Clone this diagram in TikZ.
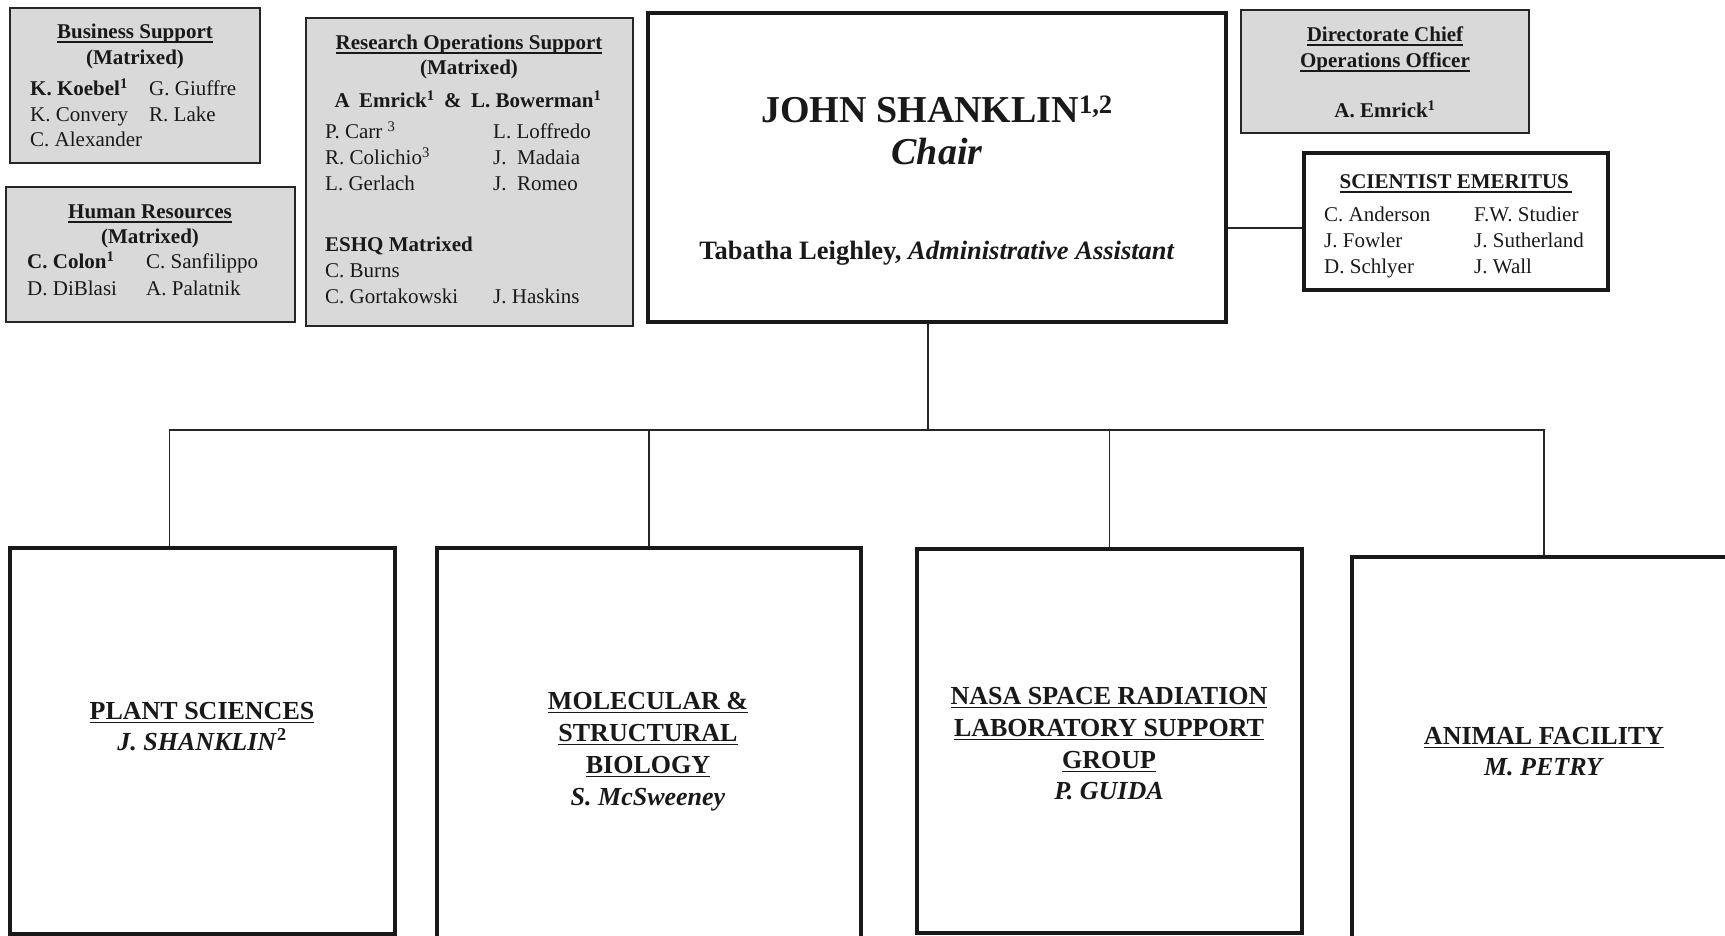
\documentclass[tikz,border=0pt]{standalone}
\usepackage{fontspec}
\setmainfont{Liberation Serif}
\newcommand{\undl}[1]{\setbox0\hbox{#1}\rlap{\rule[-3.8pt]{\wd0}{1.3pt}}\box0}

\begin{document}
\begin{tikzpicture}[x=1pt,y=-1pt,
	greybox/.style={draw=black!85, line width=1.7pt, fill=black!15, inner sep=0pt},
	mainbox/.style={draw=black!90, line width=3.2pt, fill=white, inner sep=0pt},
	link/.style={draw=black!85, line width=1.5pt},
	lbl/.style={inner sep=0pt, text=black!90, font=\fontsize{21}{25}\selectfont},
	lblb/.style={inner sep=0pt, text=black!90, font=\fontsize{21}{25}\selectfont\bfseries},
	unit/.style={inner sep=0pt, text=black!90, anchor=base, font=\fontsize{26}{31}\selectfont\bfseries}]

	\useasboundingbox (0,0) rectangle (1725,936);
	\fill[white] (0,0) rectangle (1725,936);

	% connectors
	\coordinate (hub) at (928,430);
	\coordinate (busL) at (169.5,430);
	\coordinate (busR) at (1544,430);
	\coordinate (elink) at (0,228);

	% boxes
	\draw (135,85.5) node[greybox, minimum width=250pt, minimum height=155pt] (biz) {};
	\draw (150.5,254.5) node[greybox, minimum width=289pt, minimum height=135pt] (hr) {};
	\draw (469.5,172) node[greybox, minimum width=327pt, minimum height=308pt] (rops) {};
	\draw (937,167.5) node[mainbox, minimum width=578pt, minimum height=309pt] (chair) {};
	\draw (1385,71.5) node[greybox, minimum width=288pt, minimum height=123pt] (coo) {};
	\draw (1456,221.5) node[mainbox, minimum width=304pt, minimum height=137pt] (emer) {};

	\draw (202.5,741) node[mainbox, minimum width=385pt, minimum height=386pt] (plant) {};
	\draw (649,748) node[mainbox, minimum width=424pt, minimum height=400pt] (mol) {};
	\draw (1109.5,741) node[mainbox, minimum width=385pt, minimum height=384pt] (nasa) {};
	\draw (1544,749) node[mainbox, minimum width=384pt, minimum height=384pt] (animal) {};

	\draw[link] (chair.south -| hub) -- (hub);
	\draw[link] (busL |- plant.north) -- (busL) -- (busR) -- (animal.north);
	\draw[link] (mol.north) -- (mol.north |- hub);
	\draw[link] (nasa.north) -- (nasa.north |- hub);
	\draw[link] (chair.east |- elink) -- (emer.west |- elink);

	% business support
	\draw (135,39) node[lblb, anchor=base] (bizhead) {\undl{Business Support}};
	\draw (135,65) node[lblb, anchor=base] (bizmat) {(Matrixed)};
	\draw (30,96) node[lblb, anchor=base west] (biz1) {K. Koebel\textsuperscript{1}};
	\draw (30,122) node[lbl, anchor=base west] (biz2) {K. Convery};
	\draw (30,147) node[lbl, anchor=base west] (biz3) {C. Alexander};
	\draw (149,96) node[lbl, anchor=base west] (biz4) {G. Giuffre};
	\draw (149,122) node[lbl, anchor=base west] (biz5) {R. Lake};

	% human resources
	\draw (150,219) node[lblb, anchor=base] (hrhead) {\undl{Human Resources}};
	\draw (150,244) node[lblb, anchor=base] (hrmat) {(Matrixed)};
	\draw (27,269) node[lblb, anchor=base west] (hr1) {C. Colon\textsuperscript{1}};
	\draw (27,295) node[lbl, anchor=base west] (hr2) {D. DiBlasi};
	\draw (146,269) node[lbl, anchor=base west] (hr3) {C. Sanfilippo};
	\draw (146,295) node[lbl, anchor=base west] (hr4) {A. Palatnik};

	% research operations support
	\draw (469,50) node[lblb, anchor=base] (ropshead) {\undl{Research Operations Support}};
	\draw (469,75) node[lblb, anchor=base] (ropsmat) {(Matrixed)};
	\draw (468,108) node[lblb, anchor=base] (ropslead) {A\hspace{0.45em}Emrick\textsuperscript{1}\hspace{0.45em}\&\hspace{0.45em}L. Bowerman\textsuperscript{1}};
	\draw (325,139) node[lbl, anchor=base west] (rops1) {P. Carr \textsuperscript{3}};
	\draw (325,165) node[lbl, anchor=base west] (rops2) {R. Colichio\textsuperscript{3}};
	\draw (325,191) node[lbl, anchor=base west] (rops3) {L. Gerlach};
	\draw (493,139) node[lbl, anchor=base west] (rops4) {L. Loffredo};
	\draw (493,165) node[lbl, anchor=base west] (rops5) {J.\ \ Madaia};
	\draw (493,191) node[lbl, anchor=base west] (rops6) {J.\ \ Romeo};
	\draw (325,252) node[lblb, anchor=base west] (eshq) {ESHQ Matrixed};
	\draw (325,278) node[lbl, anchor=base west] (eshq1) {C. Burns};
	\draw (325,303) node[lbl, anchor=base west] (eshq2) {C. Gortakowski};
	\draw (493,303) node[lbl, anchor=base west] (eshq3) {J. Haskins};

	% chair
	\draw (937,123) node[inner sep=0pt, anchor=base, text=black!90, font=\fontsize{38}{44}\selectfont\bfseries] (chairname) {JOHN SHANKLIN\textsuperscript{1,2}};
	\draw (937,165) node[inner sep=0pt, anchor=base, text=black!90, font=\fontsize{38}{44}\selectfont\bfseries\itshape] (chairrole) {Chair};
	\draw (937,260) node[inner sep=0pt, anchor=base, text=black!90, font=\fontsize{26.5}{31}\selectfont\bfseries] (assist) {Tabatha Leighley, \textit{Administrative Assistant}};

	% directorate chief operations officer
	\draw (1385,42) node[lblb, anchor=base] (coohead) {\undl{Directorate Chief}};
	\draw (1385,68) node[lblb, anchor=base] (coohead2) {\undl{Operations Officer}};
	\draw (1385,118) node[lblb, anchor=base] (coo1) {A. Emrick\textsuperscript{1}};

	% scientist emeritus
	\draw (1456,189) node[lblb, anchor=base] (emerhead) {\undl{SCIENTIST EMERITUS\,}};
	\draw (1324,222) node[lbl, anchor=base west] (emer1) {C. Anderson};
	\draw (1324,248) node[lbl, anchor=base west] (emer2) {J. Fowler};
	\draw (1324,273) node[lbl, anchor=base west] (emer3) {D. Schlyer};
	\draw (1474,222) node[lbl, anchor=base west] (emer4) {F.W. Studier};
	\draw (1474,248) node[lbl, anchor=base west] (emer5) {J. Sutherland};
	\draw (1474,273) node[lbl, anchor=base west] (emer6) {J. Wall};

	% units
	\draw (202,719) node[unit] (plant1) {\undl{PLANT SCIENCES}};
	\draw (202,750) node[unit] (plant2) {\textit{J. SHANKLIN}\textsuperscript{2}};
	\draw (648,709) node[unit] (mol1) {\undl{MOLECULAR \&}};
	\draw (648,741) node[unit] (mol2) {\undl{STRUCTURAL}};
	\draw (648,773) node[unit] (mol3) {\undl{BIOLOGY}};
	\draw (648,805) node[unit] (mol4) {\textit{S. McSweeney}};
	\draw (1109,704) node[unit] (nasa1) {\undl{NASA SPACE RADIATION}};
	\draw (1109,736) node[unit] (nasa2) {\undl{LABORATORY SUPPORT}};
	\draw (1109,768) node[unit] (nasa3) {\undl{GROUP}};
	\draw (1109,799) node[unit] (nasa4) {\textit{P. GUIDA}};
	\draw (1544,744) node[unit] (animal1) {\undl{ANIMAL FACILITY}};
	\draw (1544,775) node[unit] (animal2) {\textit{M. PETRY}};
\end{tikzpicture}
\end{document}
